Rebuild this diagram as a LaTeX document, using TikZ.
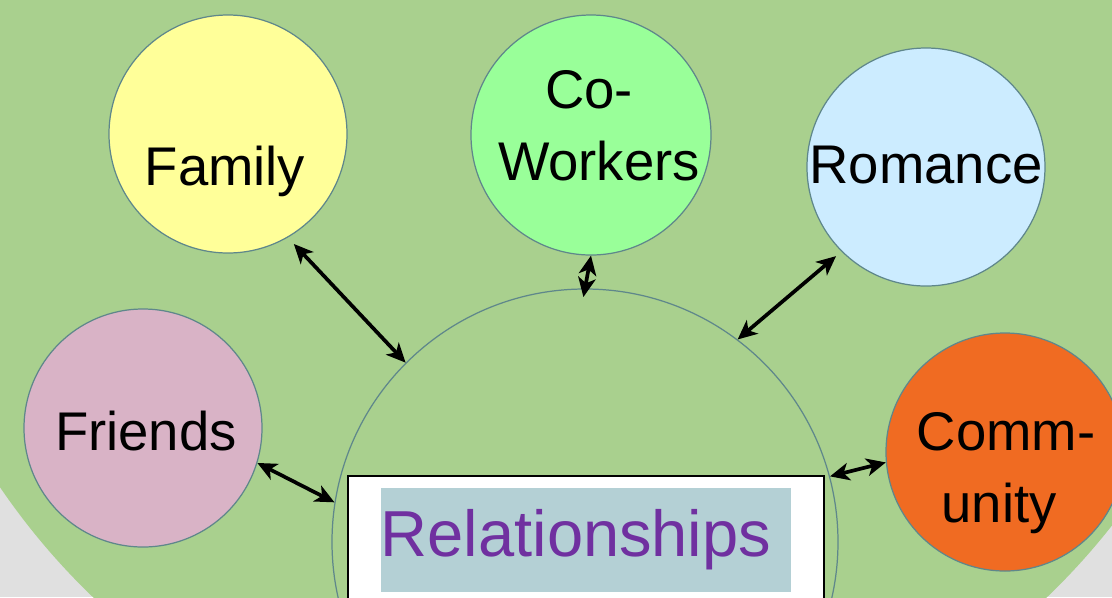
\documentclass[tikz,border=0pt]{standalone}
\usepackage{fontspec}
\setmainfont{Liberation Sans}
\usetikzlibrary{arrows.meta}

\definecolor{leaf}{HTML}{A9D08E}
\definecolor{haze}{HTML}{E0E0E0}
\definecolor{rim}{HTML}{5F878B}
\definecolor{famcol}{HTML}{FFFF99}
\definecolor{workcol}{HTML}{99FF99}
\definecolor{romcol}{HTML}{CCECFF}
\definecolor{friendcol}{HTML}{D9B3C6}
\definecolor{commcol}{HTML}{F06B22}
\definecolor{bannercol}{HTML}{B4D0D5}
\definecolor{plum}{HTML}{7030A0}

\tikzset{
  bubble/.style={circle,draw=rim,line width=0.7pt,minimum size=4.76cm,inner sep=0pt},
  word/.style={font=\fontsize{31}{36}\selectfont,anchor=base,inner sep=0pt},
  link/.style={{Stealth[length=11pt,width=10pt,inset=3pt]}-{Stealth[length=11pt,width=10pt,inset=3pt]},line width=2.1pt},
}

\begin{document}
\begin{tikzpicture}
\clip (0,0) rectangle (22.24,-11.94);
% Coloring ..
\path[fill=haze] (0,0) rectangle (22.24,-11.94);
\path[fill=leaf] (11.40,-2.00) circle (13.78);

% Circles
\node[bubble,minimum size=10.12cm] (hub) at (11.70,-10.84) {};
\node[bubble,fill=famcol] (family) at (4.56,-2.68) {};
\node[bubble,fill=workcol,minimum size=4.80cm] (cowork) at (11.82,-2.70) {};
\node[bubble,fill=romcol] (romance) at (18.52,-3.34) {};
\node[bubble,fill=friendcol] (friends) at (2.86,-8.56) {};
\node[bubble,fill=commcol] (comm) at (20.10,-9.04) {};

% Box in the middle
\node[draw=black,line width=1.2pt,fill=white,minimum width=9.52cm,minimum height=3cm,anchor=north west] (frame) at (6.94,-9.50) {};
\node[fill=bannercol,minimum width=8.20cm,minimum height=2.08cm,inner sep=0pt,anchor=north west] (banner) at (7.62,-9.76) {};

% Writing
\node[word] (familytxt) at (4.50,-3.70) {Family};
\node[word] (cotxt) at (11.78,-2.16) {Co-};
\node[word] (workerstxt) at (11.98,-3.60) {Workers};
\node[word] (romancetxt) at (18.52,-3.66) {Romance};
\node[word] (friendstxt) at (2.92,-9.00) {Friends};
\node[word] (commtxt) at (20.12,-9.00) {Comm-};
\node[word] (unitytxt) at (19.98,-10.44) {unity};
\node[word,text=plum,font=\fontsize{37}{44}\selectfont] (title) at (11.52,-11.12) {Relationships};

% Arrows
\draw[link,shorten <=5pt] (family.-60) -- (hub.135);
\draw[link,shorten >=-5pt] (cowork.south) -- (hub.north);
\draw[link,shorten >=4pt] (hub.53) -- (romance.225);
\draw[link] (friends.-17) -- (hub.171);
\draw[link] (hub.15) -- (comm.185);
\end{tikzpicture}
\end{document}
